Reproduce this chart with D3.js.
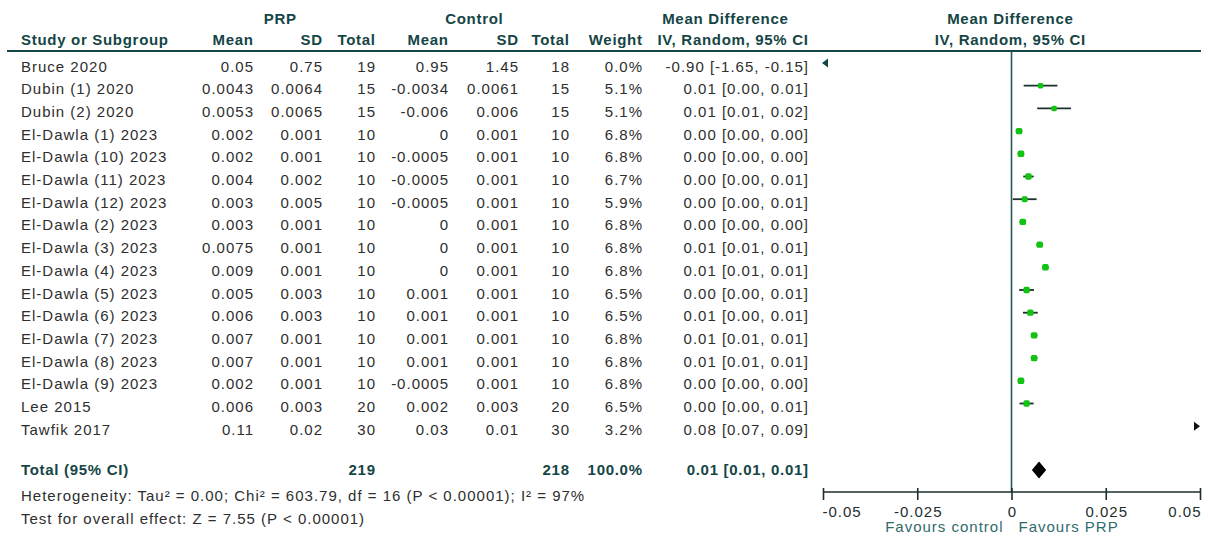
<!DOCTYPE html>
<html>
<head>
<meta charset="utf-8">
<script src="https://cdn.jsdelivr.net/npm/d3@7/dist/d3.min.js"></script>
<style>
  html, body { margin: 0; padding: 0; background: #fff; }
  svg { display: block; }
  text { font-family: "Liberation Sans", Arial, sans-serif; }
</style>
</head>
<body>
<svg id="chart" width="1208" height="537"></svg>
<script>
// Study-level data: PRP vs control, mean difference (IV, random effects)
const studies = ["Bruce 2020", "Dubin (1) 2020", "Dubin (2) 2020", "El-Dawla (1) 2023",
  "El-Dawla (10) 2023", "El-Dawla (11) 2023", "El-Dawla (12) 2023", "El-Dawla (2) 2023",
  "El-Dawla (3) 2023", "El-Dawla (4) 2023", "El-Dawla (5) 2023", "El-Dawla (6) 2023",
  "El-Dawla (7) 2023", "El-Dawla (8) 2023", "El-Dawla (9) 2023", "Lee 2015", "Tawfik 2017"];
const prpMean  = [0.05, 0.0043, 0.0053, 0.002, 0.002, 0.004, 0.003, 0.003, 0.0075, 0.009, 0.005, 0.006, 0.007, 0.007, 0.002, 0.006, 0.11];
const prpSD    = [0.75, 0.0064, 0.0065, 0.001, 0.001, 0.002, 0.005, 0.001, 0.001, 0.001, 0.003, 0.003, 0.001, 0.001, 0.001, 0.003, 0.02];
const prpN     = [19, 15, 15, 10, 10, 10, 10, 10, 10, 10, 10, 10, 10, 10, 10, 20, 30];
const ctlMean  = [0.95, -0.0034, -0.006, 0, -0.0005, -0.0005, -0.0005, 0, 0, 0, 0.001, 0.001, 0.001, 0.001, -0.0005, 0.002, 0.03];
const ctlSD    = [1.45, 0.0061, 0.006, 0.001, 0.001, 0.001, 0.001, 0.001, 0.001, 0.001, 0.001, 0.001, 0.001, 0.001, 0.001, 0.003, 0.01];
const ctlN     = [18, 15, 15, 10, 10, 10, 10, 10, 10, 10, 10, 10, 10, 10, 10, 20, 30];
const weights  = [0.0, 5.1, 5.1, 6.8, 6.8, 6.7, 5.9, 6.8, 6.8, 6.8, 6.5, 6.5, 6.8, 6.8, 6.8, 6.5, 3.2];

// Pooled estimate
const pooled = { md: 0.0073, lo: 0.0054, hi: 0.0092, weight: 100.0 };
const heterogeneityText = "Heterogeneity: Tau\u00b2 = 0.00; Chi\u00b2 = 603.79, df = 16 (P < 0.00001); I\u00b2 = 97%";
const overallText = "Test for overall effect: Z = 7.55 (P < 0.00001)";

// Axis
const axisDomain = [-0.05, 0.05];
const axisTicks = [-0.05, -0.025, 0, 0.025, 0.05];
const favourLeft = "Favours control";
const favourRight = "Favours PRP";

// Per-study mean difference with 95% CI
const rows = studies.map((name, i) => {
  const md = prpMean[i] - ctlMean[i];
  const se = Math.sqrt(prpSD[i] ** 2 / prpN[i] + ctlSD[i] ** 2 / ctlN[i]);
  return { name, i, md, lo: md - 1.96 * se, hi: md + 1.96 * se, w: weights[i] };
});

const fmt2 = v => {
  const r = Math.round((v + Math.sign(v) * 1e-9) * 100) / 100;
  return (Object.is(r, -0) ? 0 : r).toFixed(2);
};
const ciLabel = (md, lo, hi) => `${fmt2(md)} [${fmt2(lo)}, ${fmt2(hi)}]`;

const svg = d3.select("#chart");
const HEAD = "#154545", BODY = "#2e2e2e", AXIS = "#2a5656", FAV = "#2f6a6a";

const x = d3.scaleLinear().domain(axisDomain).range([823, 1200]);
const yText = d3.scalePoint().domain(d3.range(studies.length)).range([66.5, 66.5 + 16 * 22.7]);
const markerOffset = -3.5;
const size = d3.scaleSqrt().domain([0, 6.8]).range([0, 6.4]);

const cols = {
  name: 21, m1: 253, s1: 322, n1: 375, m2: 448, s2: 518, n2: 569, w: 642, ci: 808
};
const FS = 15, LS = 1.0;

function txt(g, xPos, yPos, str, opts = {}) {
  const bold = !!opts.bold;
  const ls = opts.ls != null ? opts.ls : (bold ? 0.7 : LS);
  const anchor = opts.anchor || "start";
  const shift = anchor === "end" ? ls : anchor === "middle" ? ls / 2 : 0;
  return g.append("text")
    .attr("x", xPos + shift)
    .attr("y", yPos)
    .attr("text-anchor", anchor)
    .attr("font-size", opts.size || FS)
    .attr("font-weight", bold ? "bold" : "normal")
    .attr("letter-spacing", ls)
    .attr("fill", opts.fill || BODY)
    .text(str);
}

// Header
const head = svg.append("g");
txt(head, 280, 24, "PRP", { bold: true, anchor: "middle", fill: HEAD });
txt(head, 474, 24, "Control", { bold: true, anchor: "middle", fill: HEAD });
txt(head, 725, 24, "Mean Difference", { bold: true, anchor: "middle", fill: HEAD });
txt(head, 1010, 24, "Mean Difference", { bold: true, anchor: "middle", fill: HEAD });
txt(head, cols.name, 45, "Study or Subgroup", { bold: true, fill: HEAD });
txt(head, cols.m1, 45, "Mean", { bold: true, anchor: "end", fill: HEAD });
txt(head, cols.s1, 45, "SD", { bold: true, anchor: "end", fill: HEAD });
txt(head, cols.n1, 45, "Total", { bold: true, anchor: "end", fill: HEAD });
txt(head, cols.m2, 45, "Mean", { bold: true, anchor: "end", fill: HEAD });
txt(head, cols.s2, 45, "SD", { bold: true, anchor: "end", fill: HEAD });
txt(head, cols.n2, 45, "Total", { bold: true, anchor: "end", fill: HEAD });
txt(head, cols.w, 45, "Weight", { bold: true, anchor: "end", fill: HEAD });
txt(head, cols.ci, 45, "IV, Random, 95% CI", { bold: true, anchor: "end", fill: HEAD });
txt(head, 1010, 45, "IV, Random, 95% CI", { bold: true, anchor: "middle", fill: HEAD });
head.append("line").attr("x1", 7).attr("x2", 1201).attr("y1", 51).attr("y2", 51)
  .attr("stroke", HEAD).attr("stroke-width", 2);

// Study rows
const body = svg.append("g");
rows.forEach(r => {
  const yb = yText(r.i) + 5;
  txt(body, cols.name, yb, r.name);
  txt(body, cols.m1, yb, String(prpMean[r.i]), { anchor: "end" });
  txt(body, cols.s1, yb, String(prpSD[r.i]), { anchor: "end" });
  txt(body, cols.n1, yb, String(prpN[r.i]), { anchor: "end" });
  txt(body, cols.m2, yb, String(ctlMean[r.i]), { anchor: "end" });
  txt(body, cols.s2, yb, String(ctlSD[r.i]), { anchor: "end" });
  txt(body, cols.n2, yb, String(ctlN[r.i]), { anchor: "end" });
  txt(body, cols.w, yb, r.w.toFixed(1) + "%", { anchor: "end" });
  txt(body, cols.ci, yb, ciLabel(r.md, r.lo, r.hi), { anchor: "end" });
});

// Zero line
const [xmin, xmax] = x.range();
const axisY = 492;
svg.append("line").attr("x1", x(0)).attr("x2", x(0)).attr("y1", 51).attr("y2", axisY)
  .attr("stroke", AXIS).attr("stroke-width", 1.6);

// Confidence intervals, weight squares, and off-scale arrows
const plot = svg.append("g");
rows.forEach(r => {
  const ym = yText(r.i) + markerOffset;
  const inside = r.hi >= axisDomain[0] && r.lo <= axisDomain[1];
  if (!inside) {
    const left = r.hi < axisDomain[0];
    const tip = left ? xmin - 1 : xmax;
    const dir = left ? 1 : -1;
    plot.append("path")
      .attr("d", `M${tip},${ym} L${tip + dir * 6},${ym - 4.5} L${tip + dir * 6},${ym + 4.5} Z`)
      .attr("fill", left ? HEAD : "#111");
    return;
  }
  const lo = Math.max(r.lo, axisDomain[0]), hi = Math.min(r.hi, axisDomain[1]);
  plot.append("line").attr("x1", x(lo)).attr("x2", x(hi)).attr("y1", ym).attr("y2", ym)
    .attr("stroke", "#1f2f2f").attr("stroke-width", 1.8);
  const s = size(r.w);
  if (s > 0) {
    plot.append("rect").attr("x", x(r.md) - s / 2).attr("y", ym - s / 2)
      .attr("width", s).attr("height", s).attr("rx", 1.6)
      .attr("fill", "#12c412");
  }
});

// Total row
const totalY = 470;
const tot = svg.append("g");
txt(tot, cols.name, totalY + 5, "Total (95% CI)", { bold: true, fill: HEAD });
txt(tot, cols.n1, totalY + 5, String(d3.sum(prpN)), { bold: true, anchor: "end", fill: HEAD });
txt(tot, cols.n2, totalY + 5, String(d3.sum(ctlN)), { bold: true, anchor: "end", fill: HEAD });
txt(tot, cols.w, totalY + 5, pooled.weight.toFixed(1) + "%", { bold: true, anchor: "end", fill: HEAD });
txt(tot, cols.ci, totalY + 5, ciLabel(pooled.md, pooled.lo, pooled.hi), { bold: true, anchor: "end", fill: HEAD });
const dy = 8.5;
tot.append("path")
  .attr("d", `M${x(pooled.lo)},${totalY} L${x(pooled.md)},${totalY - dy} L${x(pooled.hi)},${totalY} L${x(pooled.md)},${totalY + dy} Z`)
  .attr("fill", "#000");

txt(svg, cols.name, 501, heterogeneityText);
txt(svg, cols.name, 524, overallText);

// Axis
const ax = svg.append("g").attr("transform", `translate(0,${axisY})`);
ax.call(d3.axisBottom(x).tickValues(axisTicks).tickSize(8).tickFormat(d => String(d)));
ax.select(".domain").attr("stroke", "#1e2e2e").attr("stroke-width", 1.6).attr("d", `M${xmin},0H${xmax}`);
ax.selectAll(".tick line").attr("stroke", "#1e2e2e").attr("stroke-width", 1.6).attr("y1", -4).attr("y2", 8);
ax.selectAll(".tick text")
  .attr("font-family", "'Liberation Sans', Arial, sans-serif")
  .attr("font-size", FS).attr("letter-spacing", LS).attr("fill", "#1e2e2e")
  .attr("y", 14).attr("dy", "0.71em")
  .attr("text-anchor", d => d === axisDomain[0] ? "start" : d === axisDomain[1] ? "end" : "middle")
  .attr("dx", d => d === axisDomain[0] ? -1 : d === axisDomain[1] ? LS : LS / 2);

txt(svg, x(0) - 9, 532, favourLeft, { anchor: "end", fill: FAV });
txt(svg, x(0) + 7, 532, favourRight, { fill: FAV });
</script>
</body>
</html>
